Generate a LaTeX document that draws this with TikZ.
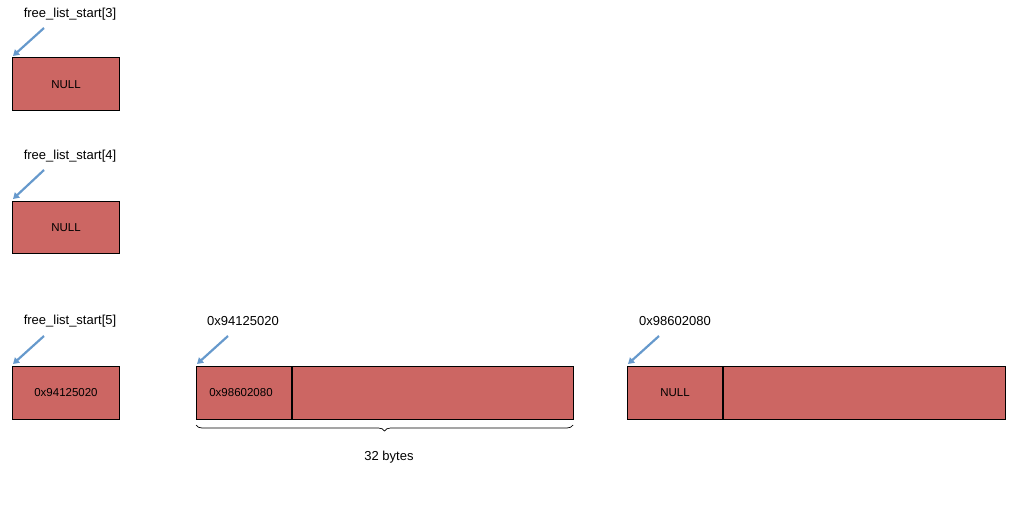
\documentclass[tikz,border=0pt]{standalone}
\usepackage{fontspec}
\setmainfont{Liberation Sans}
\usetikzlibrary{decorations.pathreplacing,arrows.meta}
\definecolor{boxred}{HTML}{CC6663}
\definecolor{arrblue}{HTML}{6699CC}
\tikzset{
  mem/.style={draw=black,fill=boxred,line width=0.6pt},
  lbl/.style={font=\fontsize{13}{15}\selectfont,inner sep=0pt},
  inlbl/.style={font=\fontsize{11.5}{13}\selectfont,inner sep=0pt},
  ptr/.style={arrblue,line width=2.2pt,-{Triangle[length=6pt,width=7pt]}},
}
\begin{document}
\begin{tikzpicture}[x=1pt,y=-1pt]
\useasboundingbox (0,0) rectangle (1024,513);
% boxes
\draw[mem] (12,57) rectangle (119,110);
\draw[mem] (12,201) rectangle (119,253);
\draw[mem] (12,366) rectangle (119,419);
\draw[mem] (196,366) rectangle (573,419);
\draw[line width=2pt] (292,366) -- (292,419);
\draw[mem] (627,366) rectangle (1005,419);
\draw[line width=2pt] (723,366) -- (723,419);
% inner texts
\node[inlbl] (t1) at (66,85) {NULL};
\node[inlbl] (t2) at (66,228) {NULL};
\node[inlbl] (t3) at (66,393) {0x94125020};
\node[inlbl] (t4) at (241,393) {0x98602080};
\node[inlbl] (t5) at (675,393) {NULL};
% labels
\node[lbl] (l1) at (70,14) {free\_list\_start[3]};
\node[lbl] (l2) at (70,156) {free\_list\_start[4]};
\node[lbl] (l3) at (70,321) {free\_list\_start[5]};
\node[lbl] (l4) at (243,321) {0x94125020};
\node[lbl] (l5) at (675,321) {0x98602080};
% arrows
\coordinate (a1s) at (44,28); \coordinate (a1e) at (13,56);
\coordinate (a2s) at (44,170); \coordinate (a2e) at (13,199);
\coordinate (a3s) at (44,336); \coordinate (a3e) at (13,364);
\coordinate (a4s) at (228,336); \coordinate (a4e) at (197,364);
\coordinate (a5s) at (659,336); \coordinate (a5e) at (628,364);
\draw[ptr] (a1s) -- (a1e);
\draw[ptr] (a2s) -- (a2e);
\draw[ptr] (a3s) -- (a3e);
\draw[ptr] (a4s) -- (a4e);
\draw[ptr] (a5s) -- (a5e);
% brace
\coordinate (b1) at (196,425); \coordinate (b2) at (573,425);
\draw[decorate,decoration={brace,amplitude=6pt,mirror},line width=0.7pt] (b1) -- (b2);
\node[lbl] (bl) at (389,457) {32 bytes};
\end{tikzpicture}
\end{document}
